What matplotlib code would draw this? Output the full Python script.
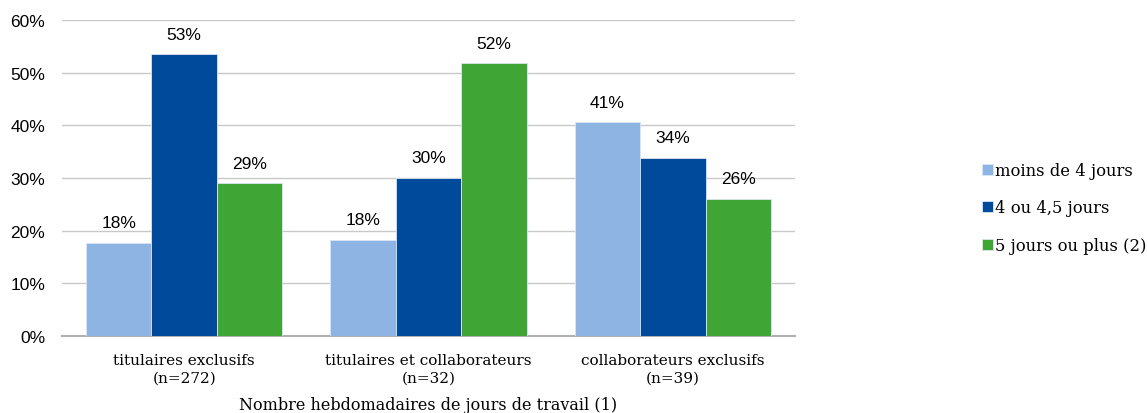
import matplotlib
matplotlib.use("Agg")
import matplotlib.pyplot as plt
import numpy as np

categories = ["titulaires exclusifs\n(n=272)", "titulaires et collaborateurs\n(n=32)", "collaborateurs exclusifs\n(n=39)"]
series_names = ["moins de 4 jours", "4 ou 4,5 jours", "5 jours ou plus (2)"]
moins4 = [17.7, 18.3, 40.6]
quatre = [53.5, 30.0, 33.8]
cinq = [29.0, 51.8, 26.0]
labels_moins4 = ["18%", "18%", "41%"]
labels_quatre = ["53%", "30%", "34%"]
labels_cinq = ["29%", "52%", "26%"]
yticks = [0, 10, 20, 30, 40, 50, 60]

colors = ["#8EB4E3", "#004A9B", "#3FA535"]

plt.rcParams['font.family'] = ['DejaVu Serif']
NUMFONT = ['Liberation Sans', 'DejaVu Sans']

fig = plt.figure(figsize=(11.48, 4.14), dpi=100)
ax = fig.add_axes([62/1148, 1-337/414, (795-62)/1148, (337-21)/414])

x = np.arange(len(categories))
w = 0.268
data = [moins4, quatre, cinq]
labs = [labels_moins4, labels_quatre, labels_cinq]
for i, (vals, lab, c, name) in enumerate(zip(data, labs, colors, series_names)):
    pos = x + (i - 1) * w
    ax.bar(pos, vals, width=w, color=c, edgecolor="#dce6f2", linewidth=0.6, label=name, zorder=3)
    for p, v, t in zip(pos, vals, lab):
        ax.text(p, v + 2.4, t, ha="center", va="bottom", fontsize=12.5, family=NUMFONT)

ax.set_xlim(-0.5, 2.5)
ax.set_ylim(0, 60)
ax.set_yticks(yticks)
ax.set_yticklabels([f"{t}%" for t in yticks], fontsize=12.5, family=NUMFONT)
ax.set_xticks(x)
ax.set_xticklabels(categories, fontsize=11, linespacing=1.35)
ax.tick_params(axis="y", length=0, pad=12)
ax.tick_params(axis="x", length=0, pad=12)
ax.grid(axis="y", color="#c8c8c8", linewidth=1, zorder=0)
for s in ["top", "right", "left"]:
    ax.spines[s].set_visible(False)
ax.spines["bottom"].set_color("#b0b0b0")
ax.spines["bottom"].set_linewidth(1.5)
ax.set_xlabel("Nombre hebdomadaires de jours de travail (1)", fontsize=11.5, labelpad=8)

fig.legend(loc="upper left", bbox_to_anchor=(982/1148, 1-163/414), frameon=False,
           fontsize=11.8, handlelength=0.67, handleheight=0.67, handletextpad=0.14,
           labelspacing=1.25, borderpad=0, borderaxespad=0)

fig.savefig("out.png", dpi=100)
